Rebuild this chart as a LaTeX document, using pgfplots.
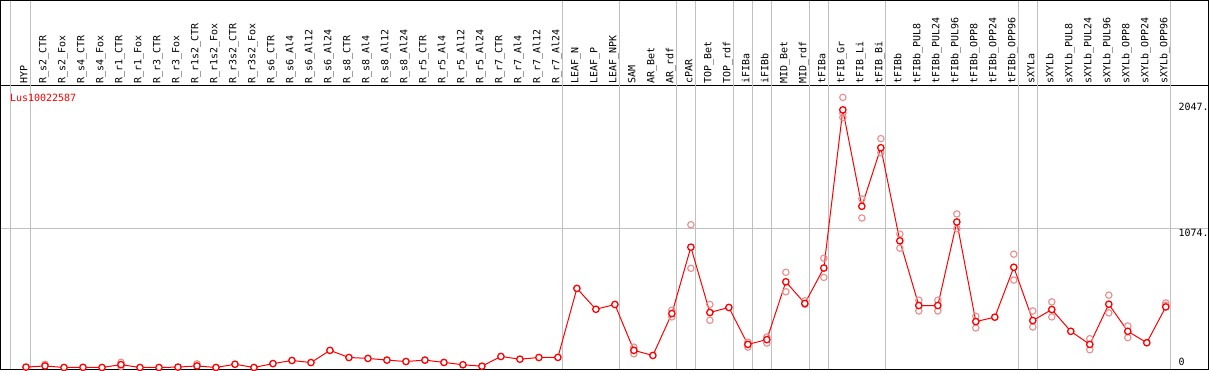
\documentclass[border=0pt]{standalone}
\usepackage{fontspec}
\usepackage{pgfplots}
\pgfplotsset{compat=1.18}
\newfontfamily\pix{DejaVu Sans Mono}
\newcommand\pixf{\pix\fontsize{10}{12}\selectfont}
\definecolor{rep}{RGB}{236,140,140}
\definecolor{sep}{RGB}{192,192,192}

\begin{document}
\begin{tikzpicture}
\begin{axis}[
  scale only axis, width=1208bp, height=284bp,
  xmin=-1.342, xmax=62.24, ymin=-15, ymax=2175,
  clip=false,
  axis line style={black, line width=1bp},
  xtick={0,...,60},
  xticklabels={HYP,R\_s2\_CTR,R\_s2\_Fox,R\_s4\_CTR,R\_s4\_Fox,R\_r1\_CTR,R\_r1\_Fox,R\_r3\_CTR,R\_r3\_Fox,R\_r1s2\_CTR,R\_r1s2\_Fox,R\_r3s2\_CTR,R\_r3s2\_Fox,R\_s6\_CTR,R\_s6\_Al4,R\_s6\_Al12,R\_s6\_Al24,R\_s8\_CTR,R\_s8\_Al4,R\_s8\_Al12,R\_s8\_Al24,R\_r5\_CTR,R\_r5\_Al4,R\_r5\_Al12,R\_r5\_Al24,R\_r7\_CTR,R\_r7\_Al4,R\_r7\_Al12,R\_r7\_Al24,LEAF\_N,LEAF\_P,LEAF\_NPK,SAM,AR\_Bet,AR\_rdf,cPAR,TOP\_Bet,TOP\_rdf,iFIBa,iFIBb,MID\_Bet,MID\_rdf,tFIBa,tFIB\_Gr,tFIB\_Li,tFIB\_Bi,tFIBb,tFIBb\_PUL8,tFIBb\_PUL24,tFIBb\_PUL96,tFIBb\_OPP8,tFIBb\_OPP24,tFIBb\_OPP96,sXYLa,sXYLb,sXYLb\_PUL8,sXYLb\_PUL24,sXYLb\_PUL96,sXYLb\_OPP8,sXYLb\_OPP24,sXYLb\_OPP96},
  xticklabel pos=right,
  major tick length=0pt,
  xticklabel style={font=\pixf, inner sep=0pt, xshift=1.5bp, yshift=2bp, rotate=90, anchor=base west},
  ytick={2047}, yticklabels={2047.}, yticklabel pos=right,
  yticklabel style={font=\pixf, inner sep=0.5bp, anchor=north west, xshift=-30.5bp},
  extra y ticks={1074}, extra y tick labels={1074.},
  extra y tick style={grid=major, major grid style={sep, line width=1bp}},
]
\pgfplotsinvokeforeach{-0.84,0.26,28.26,31.26,34.26,35.26,37.26,38.26,39.26,41.26,42.26,45.26,52.26,53.26,60.26}{
  \draw[sep, line width=1bp] (axis cs:#1,-15) -- ([yshift=85bp]axis cs:#1,2175);
}
\draw[black, line width=1bp] (rel axis cs:0,0) -- ([yshift=85bp]rel axis cs:0,1) -- ([yshift=85bp]rel axis cs:1,1) -- (rel axis cs:1,0);

\addplot[only marks, mark=o, mark size=3.2bp, draw=rep, mark options={line width=1.1bp, draw=rep}] coordinates {
(1,25) (5,40) (5,8) (9,28)
(32,157) (32,106) (34,442) (34,390) (35,1101) (35,765) (36,486) (36,364)
(38,196) (38,157) (39,235) (39,188) (40,734) (40,584) (41,514) (41,487)
(42,843) (42,695) (43,2083) (43,1928) (43,1961) (44,1300) (44,1153)
(45,1765) (45,1657) (46,1029) (46,920) (47,519) (47,436) (48,519) (48,436)
(49,1184) (49,1070) (50,395) (50,305) (52,874) (52,674) (53,436) (53,312)
(54,506) (54,390) (56,222) (56,137) (57,558) (57,421) (58,320) (58,230)
(60,498) (60,480)
};

\addplot[red, line width=1bp, mark=*, mark size=3.2bp, mark options={fill=white, draw=red, line width=1.3bp}] coordinates {
(0,3) (1,12) (2,0) (3,1) (4,0) (5,22) (6,0) (7,0) (8,3) (9,12)
(10,0) (11,25) (12,0) (13,30) (14,54) (15,38) (16,132) (17,77) (18,70) (19,57)
(20,46) (21,57) (22,39) (23,21) (24,10) (25,85) (26,64) (27,77) (28,78) (29,610)
(30,449) (31,486) (32,132) (33,93) (34,416) (35,928) (36,424) (37,463) (38,178) (39,215)
(40,661) (41,494) (42,767) (43,1987) (44,1243) (45,1695) (46,977) (47,478) (48,478) (49,1122)
(50,354) (51,388) (52,773) (53,362) (54,447) (55,279) (56,178) (57,488) (58,279) (59,191)
(60,467)
};

\node[anchor=north west, font=\pixf, text=red, inner sep=0pt] at ([xshift=9.5bp, yshift=-8bp]rel axis cs:0,1) {Lus10022587};
\node[anchor=south west, font=\pixf, inner sep=0.5bp] at ([xshift=-30.5bp, yshift=3bp]rel axis cs:1,0) {0};
\end{axis}
\end{tikzpicture}
\end{document}
